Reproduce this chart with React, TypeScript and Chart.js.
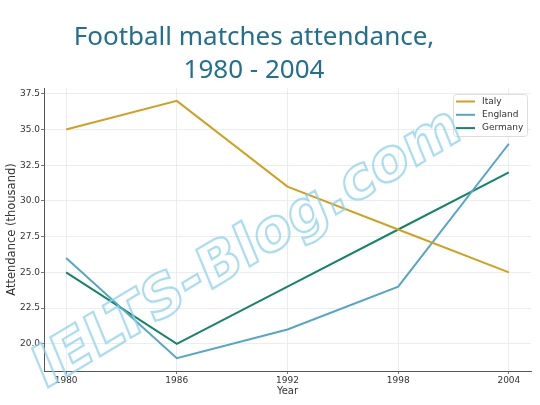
import React, { useEffect, useRef } from "react";
import { Chart, registerables } from "chart.js";

Chart.register(...registerables);

const years = [1980, 1986, 1992, 1998, 2004];
const italy = [35, 37, 31, 28, 25];
const england = [26, 19, 21, 24, 34];
const germany = [25, 20, 24, 28, 32];
const yTicks = [20, 22.5, 25, 27.5, 30, 32.5, 35, 37.5];
const seriesNames = ["Italy", "England", "Germany"];
const seriesColors = ["#d0a020", "#55a6c6", "#158467"];
const titleLines = ["Football matches attendance,", "1980 - 2004"];
const watermark = "IELTS-Blog.com";

const legendPlugin = {
  id: "innerLegend",
  afterDatasetsDraw(chart: any) {
    const ctx = chart.ctx;
    const area = chart.chartArea;
    const x0 = area.right - 78;
    const y0 = area.top + 6;
    const w = 74;
    const h = 42;
    ctx.save();
    ctx.fillStyle = "rgba(255,255,255,0.85)";
    ctx.strokeStyle = "#dddddd";
    ctx.lineWidth = 1;
    ctx.beginPath();
    (ctx as any).roundRect(x0 + 0.5, y0 + 0.5, w, h, 3);
    ctx.fill();
    ctx.stroke();
    ctx.font = "9px 'DejaVu Sans'";
    ctx.textBaseline = "middle";
    chart.data.datasets.forEach((ds: any, i: number) => {
      const yy = y0 + 7.5 + i * 13.3;
      ctx.strokeStyle = ds.borderColor;
      ctx.lineWidth = 2;
      ctx.beginPath();
      ctx.moveTo(x0 + 3, yy);
      ctx.lineTo(x0 + 22, yy);
      ctx.stroke();
      ctx.fillStyle = "#333333";
      ctx.fillText(ds.label, x0 + 29, yy);
    });
    ctx.restore();
  },
};

const watermarkPlugin = {
  id: "watermark",
  afterDraw(chart: any) {
    const ctx = chart.ctx;
    ctx.save();
    ctx.translate(248, 250);
    ctx.rotate((-31 * Math.PI) / 180);
    ctx.transform(1, 0, -0.15, 1, 0, 0);
    ctx.font = "bold 60px 'DejaVu Sans'";
    const m = ctx.measureText(watermark).width;
    const size = (60 * 490) / m;
    ctx.font = `bold ${size}px 'DejaVu Sans'`;
    ctx.textAlign = "center";
    ctx.textBaseline = "middle";
    ctx.strokeStyle = "rgba(140, 210, 235, 0.75)";
    ctx.lineWidth = 2.2;
    ctx.strokeText(watermark, 0, 0);
    ctx.restore();
  },
};

export default function App() {
  const ref = useRef<HTMLCanvasElement | null>(null);

  useEffect(() => {
    if (!ref.current) return;
    const series = [italy, england, germany];
    const chart = new Chart(ref.current, {
      type: "line",
      data: {
        datasets: series.map((vals, i) => ({
          label: seriesNames[i],
          data: years.map((yr, j) => ({ x: yr, y: vals[j] })),
          borderColor: seriesColors[i],
          backgroundColor: seriesColors[i],
          borderWidth: 2,
          pointRadius: 0,
          tension: 0,
          fill: false,
        })),
      },
      options: {
        animation: false,
        responsive: false,
        maintainAspectRatio: false,
        layout: { padding: { top: 88, left: 0, right: 9, bottom: 0 } },
        plugins: {
          legend: { display: false },
          title: { display: false },
          tooltip: { enabled: false },
        },
        scales: {
          x: {
            type: "linear",
            min: 1978.8,
            max: 2005.2,
            afterBuildTicks: (scale: any) => {
              scale.ticks = years.map((v) => ({ value: v }));
            },
            afterFit: (scale: any) => {
              scale.height = 34;
            },
            ticks: {
              font: { family: "DejaVu Sans", size: 9 },
              color: "#333333",
              padding: 1,
              maxRotation: 0,
              callback: (v: any) => String(v),
            },
            grid: {
              color: "#e8e8e8",
              lineWidth: 0.8,
              tickLength: 3,
              tickColor: "#555555",
            },
            border: { color: "#555555", width: 1 },
            title: {
              display: true,
              text: "Year",
              font: { family: "DejaVu Sans", size: 10 },
              color: "#333333",
              padding: { top: 0, bottom: 8 },
            },
          },
          y: {
            type: "linear",
            min: 18.1,
            max: 37.9,
            afterBuildTicks: (scale: any) => {
              scale.ticks = yTicks.map((v) => ({ value: v }));
            },
            afterFit: (scale: any) => {
              scale.width = 44;
            },
            ticks: {
              font: { family: "DejaVu Sans", size: 9 },
              color: "#333333",
              padding: 1,
              callback: (v: any) => Number(v).toFixed(1),
            },
            grid: {
              color: "#e8e8e8",
              lineWidth: 0.8,
              tickLength: 3,
              tickColor: "#555555",
            },
            border: { color: "#555555", width: 1 },
            title: {
              display: true,
              text: "Attendance (thousand)",
              font: { family: "DejaVu Sans", size: 11.5 },
              color: "#333333",
              padding: { top: 5, bottom: 0 },
            },
          },
        },
      },
      plugins: [legendPlugin, watermarkPlugin],
    } as any);
    return () => chart.destroy();
  }, []);

  return (
    <div style={{ position: "absolute", left: 0, top: 0, width: 540, height: 405, background: "#fff" }}>
      <canvas ref={ref} width={540} height={405} style={{ position: "absolute", left: 0, top: 0, width: 540, height: 405 }} />
      <div
        style={{
          position: "absolute",
          left: 0,
          top: 19,
          width: 508,
          textAlign: "center",
          fontFamily: "'Noto Sans', sans-serif",
          fontSize: 26,
          lineHeight: "33px",
          color: "#22708f",
          pointerEvents: "none",
        }}
      >
        {titleLines.map((t, i) => (
          <div key={i}>{t}</div>
        ))}
      </div>
    </div>
  );
}
